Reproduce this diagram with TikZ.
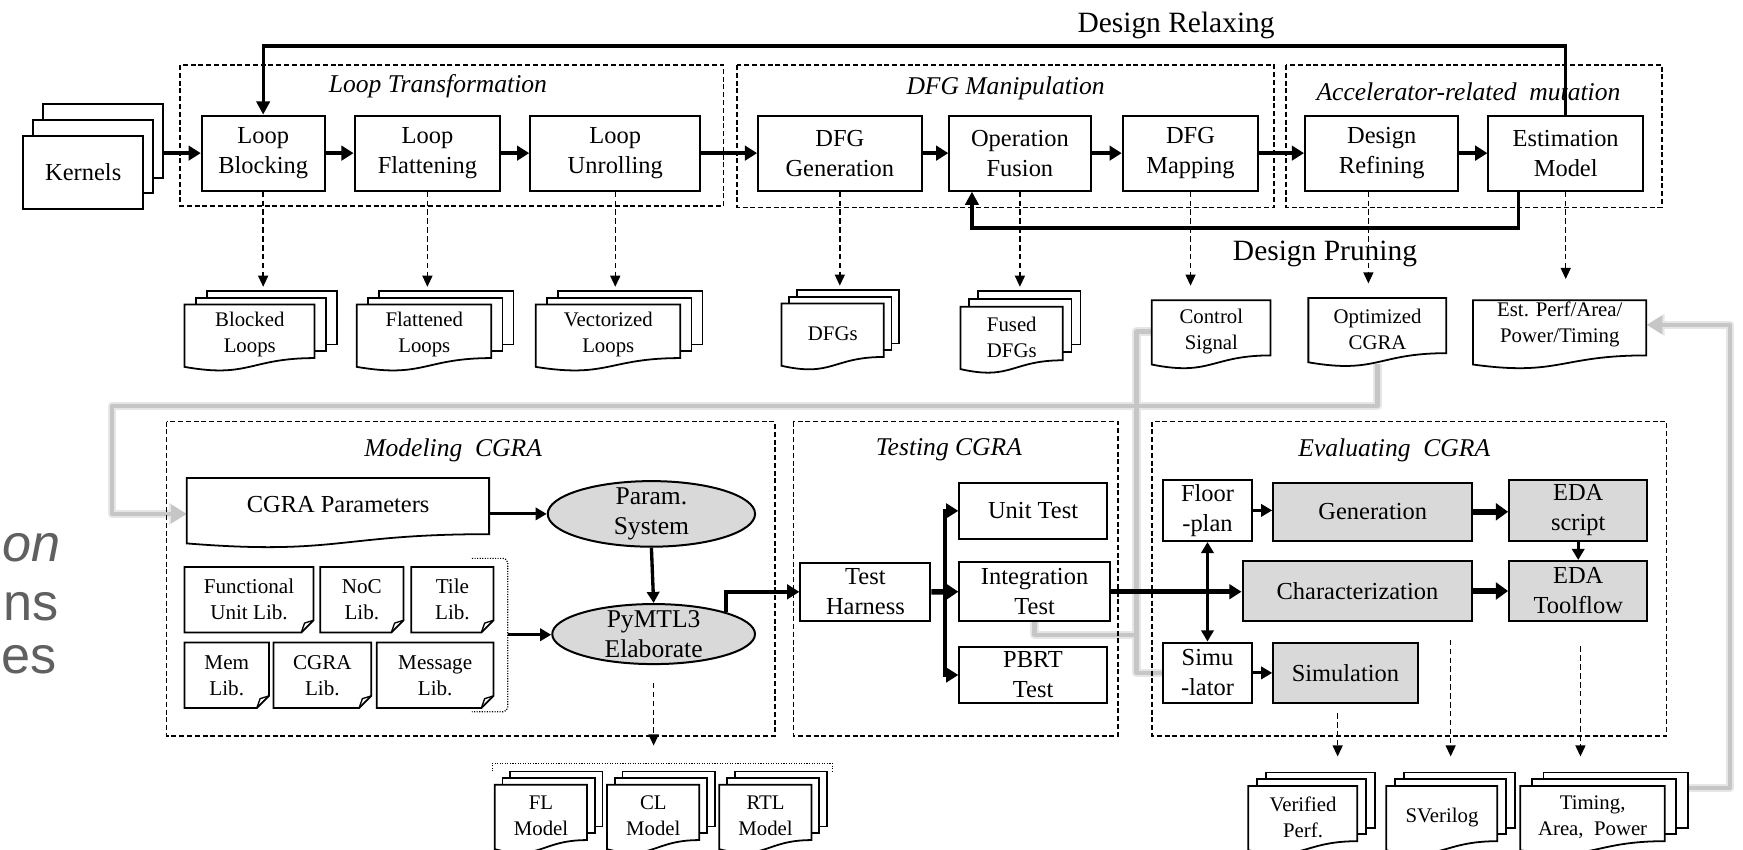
\documentclass[tikz,border=0pt]{standalone}
\usepackage{fontspec}
\setmainfont{Liberation Serif}
\newfontfamily\sidefont{Liberation Sans}
\usetikzlibrary{arrows.meta,calc,shapes.geometric}
\pgfdeclarelayer{background}
\pgfsetlayers{background,main}

\definecolor{boxgray}{HTML}{D9D9D9}
\definecolor{traceline}{HTML}{C6C6C6}
\definecolor{tracehalo}{HTML}{E6E6E6}
\definecolor{sidegray}{HTML}{606060}

\tikzset{
  box/.style={draw, line width=1.8pt, fill=white, inner sep=0pt, align=center,
    font=\fontsize{22}{27}\selectfont},
  shaded/.style={box, fill=boxgray},
  group/.style={line width=1.3pt, dash pattern=on 4.5pt off 2.5pt},
  grouptitle/.style={inner sep=0pt, font=\fontsize{23}{27}\selectfont\itshape},
  biglabel/.style={inner sep=0pt, font=\fontsize{26.5}{30}\selectfont},
  sheet/.style={draw, line width=1.6pt, fill=white, inner sep=0pt, outer sep=0pt},
  docline/.style={draw, line width=1.6pt, fill=white},
  foldline/.style={line width=1.2pt, line join=round},
  doctext/.style={inner sep=0pt, align=center, font=\fontsize{18.7}{23.5}\selectfont},
  libtext/.style={inner sep=0pt, align=center, font=\fontsize{19}{23.5}\selectfont},
  oval/.style={ellipse, draw, line width=1.8pt, fill=boxgray, inner sep=0pt},
  ovaltext/.style={inner sep=0pt, align=center, font=\fontsize{23}{26.5}\selectfont},
  sidetext/.style={anchor=base east, inner sep=0pt, text=sidegray,
    font=\sidefont\fontsize{47}{50}\selectfont},
  flow/.style={line width=4pt, -{Triangle[length=11pt,width=13pt]}},
  heavyflow/.style={line width=5.5pt, -{Triangle[length=11pt,width=15pt]}},
  lightflow/.style={line width=2.8pt, -{Triangle[length=10pt,width=11pt]}},
  loopline/.style={line width=3pt, -{Triangle[length=12pt,width=12pt]}},
  result/.style={line width=1.3pt, dash pattern=on 5pt off 3pt, -{Triangle[length=10pt,width=9pt]}},
  halo/.style={line width=7.5pt, tracehalo, line join=round},
  trace/.style={line width=4pt, traceline, line join=round},
  halotip/.style={halo, -{Triangle[length=16pt,width=19pt]}},
  tracearrow/.style={trace, -{Triangle[length=14pt,width=16pt]}},
  bracket/.style={line width=1.1pt, dash pattern=on 1pt off 1.3pt},
}

% Flowchart "document" outline: left, top, width, height
\newcommand\docshape[4]{%
  \draw[docline] (#1,#2) -- ++(#3,0) -- ++(0,{0.802*#4})
    .. controls ({#1+0.5*#3},{#2+0.802*#4}) and ({#1+0.5*#3},{#2+1.1075*#4})
    .. ({#1},{#2+0.934*#4}) -- cycle;}
% single document: [options]{name}{left}{top}{width}{height}{text}
\newcommand\singledoc[7][]{%
  \docshape{#3}{#4}{#5}{#6}%
  \node[doctext, anchor=north west, minimum width=#5pt, minimum height=#6pt, yshift=3pt, #1]
    (#2) at (#3,#4) {#7};}
% stacked documents: {name}{left}{top}{width}{height}{dx}{dy}{text}
\newcommand\multidoc[8]{%
  \node[sheet, anchor=north west, minimum width=#4pt, minimum height={0.8*#5pt}]
    (#1-back) at ({#2+2*#6},{#3-2*#7}) {};%
  \node[sheet, anchor=north west, minimum width=#4pt, minimum height={0.8*#5pt}]
    (#1-mid) at ({#2+#6},{#3-#7}) {};%
  \singledoc{#1}{#2}{#3}{#4}{#5}{#8}}
% library sheet with a folded corner: {name}{x0}{y0}{x1}{y1}{text}
\newcommand\libdoc[6]{%
  \draw[docline] (#2,#3) -- (#4,#3) -- (#4,{#5-11}) -- ({#4-11},#5) -- (#2,#5) -- cycle;%
  \draw[foldline] ({#4-11},#5) -- ({#4-8},{#5-8.5}) -- (#4,{#5-11});%
  \node[libtext] (#1) at ({(#2+#4)/2},{(#3+#5)/2}) {#6};}

\begin{document}
\begin{tikzpicture}[x=1pt,y=-1pt]
\useasboundingbox (0,0) rectangle (1568,764);

% side caption fragments
\node[sidetext] (side-on) at (55,505.3) {\itshape on};
\node[sidetext] (side-ns) at (53,557.8) {ns};
\node[sidetext] (side-es) at (51,605.7) {es};

% stage frames
\draw[group] (162,58.5) rectangle (651,185.5);
\draw[group] (663,58.5) rectangle (1146,186.5);
\draw[group] (1157,58.5) rectangle (1495,186.5);
\draw[group] (150,379.3) rectangle (697,662.1);
\draw[group] (713.8,379.3) rectangle (1005.6,662.1);
\draw[group] (1036.5,379.3) rectangle (1499,662.1);

\node[grouptitle] (lt-title) at (394,78) {Loop Transformation};
\node[grouptitle] (dfg-title) at (904.6,79.5) {DFG Manipulation};
\node[grouptitle] (acc-title) at (1321,82.5) {Accelerator-related~ mutation};
\node[grouptitle] (mod-title) at (407.6,404.8) {Modeling~ CGRA};
\node[grouptitle] (test-title) at (853.6,405) {Testing CGRA};
\node[grouptitle] (eval-title) at (1254.3,405) {Evaluating~ CGRA};
\node[biglabel] (relax-label) at (1058,22.5) {Design Relaxing};
\node[biglabel] (prune-label) at (1192,228) {Design Pruning};

% kernels
\node[box, anchor=north west, minimum width=108pt, minimum height=66pt] (kern-back) at (38,93) {};
\node[box, anchor=north west, minimum width=108pt, minimum height=66pt] (kern-mid) at (29,107) {};
\node[box, anchor=north west, minimum width=108pt, minimum height=66pt] (kern) at (20,121) {Kernels};

% top pipeline
\node[box, minimum width=110.5pt, minimum height=67.5pt] (lb) at (236.75,137.75) {Loop\\Blocking};
\node[box, minimum width=131pt, minimum height=67.5pt] (lf) at (384.5,137.75) {Loop\\Flattening};
\node[box, minimum width=153pt, minimum height=67.5pt] (lu) at (553.5,137.75) {Loop\\Unrolling};
\node[box, minimum width=147pt, minimum height=67.5pt] (dg) at (755.5,137.75) {DFG\\Generation};
\node[box, minimum width=127pt, minimum height=67.5pt] (of) at (917.5,137.75) {Operation\\Fusion};
\node[box, minimum width=122pt, minimum height=67.5pt] (dm) at (1071,137.75) {DFG\\Mapping};
\node[box, minimum width=138pt, minimum height=67.5pt] (dr) at (1243,137.75) {Design\\Refining};
\node[box, minimum width=139pt, minimum height=67.5pt] (em) at (1408.5,137.75) {Estimation\\Model};

% intermediate products
\multidoc{bl}{166}{274}{117}{60}{10}{6}{Blocked\\Loops}
\multidoc{fl}{321}{274}{121}{60}{10}{6}{Flattened\\Loops}
\multidoc{vl}{482}{274}{130}{60}{10}{6}{Vectorized\\Loops}
\multidoc{dfgs}{703}{273}{92}{60}{7}{6}{DFGs}
\multidoc{fdfg}{864}{276}{92}{60}{8}{7}{Fused\\DFGs}
\singledoc{ctrl}{1036}{270}{107}{62}{Control\\Signal}
\singledoc{optc}{1177}{268}{124}{62}{Optimized\\CGRA}
\singledoc[yshift=6pt]{est}{1325}{270}{156}{62}{Est. Perf/Area/\\Power/Timing}

% modeling
\singledoc[font=\fontsize{22}{27}\selectfont, yshift=5pt]{cp}{168}{430}{272}{63}{CGRA Parameters}
\libdoc{fulib}{166}{510}{282}{569}{Functional\\Unit Lib.}
\libdoc{noclib}{288}{510}{363}{569}{NoC\\Lib.}
\libdoc{tilelib}{370}{510}{444}{569}{Tile\\Lib.}
\libdoc{memlib}{166}{578}{242}{637}{Mem\\Lib.}
\libdoc{cgralib}{246}{578}{334}{637}{CGRA\\Lib.}
\libdoc{msglib}{339}{578}{444}{637}{Message\\Lib.}
\draw[bracket, rounded corners=4pt] (424.6,502.3) -- (456.7,502.3) -- (456.7,640.2) -- (424.6,640.2);
\coordinate (libs) at (456.7,571);

\node[oval, minimum width=186.5pt, minimum height=59pt] (ps) at (586,462.3) {};
\node[ovaltext] (ps-text) at (ps.center) {Param.\\System};
\node[oval, minimum width=182.4pt, minimum height=54pt] (py) at (588,570.4) {};
\node[ovaltext] (py-text) at (py.center) {PyMTL3\\Elaborate};

% generated models
\draw[bracket] (443,694) -- (443,686.7) -- (748.6,686.7) -- (748.6,694);
\coordinate (models) at (595.8,686.7);
\multidoc{flm}{445}{706}{83}{62}{7}{6}{FL\\Model}
\multidoc{clm}{546}{706}{83}{62}{7}{6}{CL\\Model}
\multidoc{rtlm}{647}{706}{83}{62}{7}{6}{RTL\\Model}

% testing
\node[box, minimum width=117pt, minimum height=52.4pt] (th) at (778.5,532.4) {Test\\Harness};
\node[box, minimum width=132.7pt, minimum height=50.7pt] (ut) at (929.35,459.55) {Unit Test};
\node[box, minimum width=135.4pt, minimum height=52.6pt] (it) at (930.7,532.3) {Integration\\Test};
\node[box, minimum width=132.7pt, minimum height=51pt] (pb) at (929.35,607.2) {PBRT\\Test};

% evaluating
\node[box, minimum width=79.5pt, minimum height=54.9pt] (fp) at (1086.25,459.15) {Floor\\-plan};
\node[shaded, minimum width=179.1pt, minimum height=52.4pt] (gen) at (1234.95,460.4) {Generation};
\node[shaded, minimum width=124.3pt, minimum height=54.9pt] (es) at (1419.75,459.15) {EDA\\script};
\node[shaded, minimum width=206.7pt, minimum height=53.9pt] (ch) at (1221.15,531.65) {Characterization};
\node[shaded, minimum width=124.3pt, minimum height=53.9pt] (etf) at (1419.75,531.65) {EDA\\Toolflow};
\node[box, minimum width=79.5pt, minimum height=54.7pt] (sim) at (1086.25,605.35) {Simu\\-lator};
\node[shaded, minimum width=129.9pt, minimum height=54.7pt] (sml) at (1210.35,605.35) {Simulation};

\multidoc{vp}{1123}{707}{98}{62}{8}{6}{Verified\\Perf.}
\multidoc{sv}{1247}{707}{100}{62}{8}{6}{SVerilog}
\multidoc{tap}{1367.5}{707}{130}{62}{10.5}{6}{Timing,\\Area,~ Power}

% feedback loops
\coordinate (relax) at (800,41.4);
\coordinate (prune) at (1100,205);
\draw[loopline] (em.north) |- (relax) -| (lb.north);
\draw[loopline] ($(em.south west)!0.2!(em.south east)$) |- (prune) -| ($(of.south west)!0.165!(of.south east)$);

% main flow
\draw[flow] (kern-back.east |- lb.west) -- (lb.west);
\draw[flow] (lb.east) -- (lf.west);
\draw[flow] (lf.east) -- (lu.west);
\draw[flow] (lu.east) -- (dg.west);
\draw[flow] (dg.east) -- (of.west);
\draw[flow] (of.east) -- (dm.west);
\draw[flow] (dm.east) -- (dr.west);
\draw[flow] (dr.east) -- (em.west);

% products of each step
\draw[result] (lb.south) -- ($(lb.south |- bl-back.north)+(0,-4)$);
\draw[result] (lf.south) -- ($(lf.south |- fl-back.north)+(0,-4)$);
\draw[result] (lu.south) -- ($(lu.south |- vl-back.north)+(0,-4)$);
\draw[result] (dg.south) -- ($(dg.south |- dfgs-back.north)+(0,-4)$);
\draw[result] (of.south) -- ($(of.south |- fdfg-back.north)+(0,-4)$);
\draw[result] (dm.south) -- ($(dm.south |- ctrl.north)+(0,-10)$);
\draw[result] ($(dr.south)+(-12,0)$) -- ($(dr.south |- optc.north)+(-12,-10)$);
\draw[result] (em.south) -- ($(em.south |- est.north)+(0,-10)$);

% modeling flow
\draw[lightflow] (ps.west -| cp.east) -- (ps.west);
\draw[lightflow, line width=3pt] (ps.south) -- (py.north);
\draw[lightflow] (libs) -- (libs -| py.west);
\draw[line width=3.5pt, -{Triangle[length=11pt,width=13pt]}] (py.north east) |- (th.west);
\draw[result] ($(py.south)+(0,16)$) -- ($(py.south |- models)+(0,-16)$);

% testing flow
\coordinate (split) at ($(th.east)!0.5!(it.west)$);
\draw[line width=5pt, -{Triangle[length=11pt,width=14pt]}] (th.east) -- (it.west);
\draw[flow, line width=3.5pt] (split) |- (ut.west);
\draw[flow, line width=3.5pt] (split) |- (pb.west);

% evaluating flow
\draw[flow, line width=4.5pt] (it.east) -- (it.east -| ch.west);
\draw[line width=3.5pt, {Triangle[length=10pt,width=11pt]}-{Triangle[length=10pt,width=11pt]}] (fp.south) -- (sim.north);
\draw[lightflow] (fp.east) -- (fp.east -| gen.west);
\draw[heavyflow] (gen.east) -- (gen.east -| es.west);
\draw[lightflow] (es.south) -- (etf.north);
\draw[heavyflow] (ch.east) -- (ch.east -| etf.west);
\draw[lightflow] (sim.east) -- (sml.west);

\draw[result] ($(sml.south)+(-7,8)$) -- ($(sml.south |- vp-back.north)+(-7,-14.5)$);
\draw[result] ($(ch.south -| sv-mid.north)+(0,16)$) -- ($(sv-back.north -| sv-mid.north)+(0,-14.5)$);
\draw[result] ($(etf.south)+(2,22)$) -- ($(etf.south |- tap-back.north)+(2,-14.5)$);

% grey back-annotation traces, with a soft edge
\begin{pgfonlayer}{background}
  \coordinate (tap-in) at (1022.5,571);
  \foreach \s/\t in {halo/halotip, trace/tracearrow}{
    \draw[\t] (optc.south) |- (101,365) |- (ps.west -| cp.west);
    \draw[\s] (ctrl.west) -| (tap-in) |- (sim.west);
    \draw[\s] (it.south) |- (tap-in);
    \draw[\t] ([yshift=-14pt]tap-back.north east) -| ($(est.east)+(75,0)$) -- (est.east);
  }
\end{pgfonlayer}
\end{tikzpicture}
\end{document}
